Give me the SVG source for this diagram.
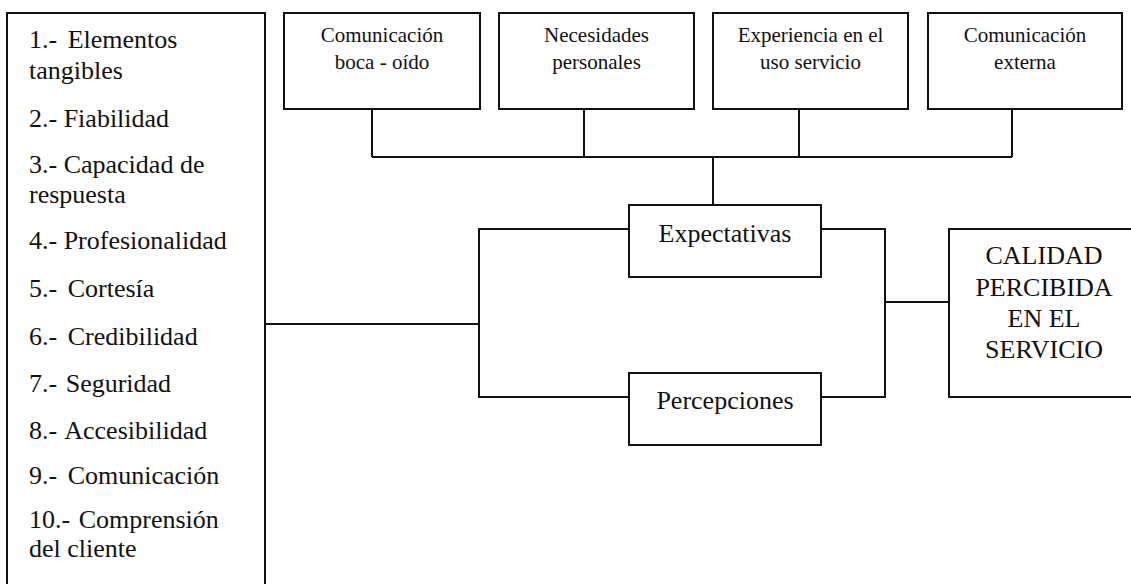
<svg xmlns="http://www.w3.org/2000/svg" width="1131" height="584" viewBox="0 0 1131 584">
  <!-- Connectors -->
  <g id="connectors" fill="none" stroke="#111111" stroke-width="2">
    <!-- Four sources feeding Expectativas -->
    <path d="M372 109 V157 M584 109 V157 M799 109 V157 M1012 109 V157 M372 157 H1012 M713 157 V205"/>
    <!-- Dimensions list to the two branches -->
    <path d="M265 324 H479 M629 229 H479 V397 H629"/>
    <!-- Both branches joining towards the result -->
    <path d="M821 229 H885 V397 H821 M885 302 H949"/>
  </g>

  <!-- Dimensions list -->
  <g id="dimensiones" fill="#111111">
    <rect x="7" y="13" width="258" height="600" fill="#ffffff" stroke="#111111" stroke-width="2"/>
    <text font-family="Liberation Serif" font-size="26" x="29" y="48">1.- <tspan dx="4">Elementos</tspan></text>
    <text font-family="Liberation Serif" font-size="26" x="29" y="79">tangibles</text>
    <text font-family="Liberation Serif" font-size="26" x="29" y="127">2.- Fiabilidad</text>
    <text font-family="Liberation Serif" font-size="26" x="29" y="173">3.- Capacidad de</text>
    <text font-family="Liberation Serif" font-size="26" x="29" y="203">respuesta</text>
    <text font-family="Liberation Serif" font-size="26" x="29" y="249">4.- Profesionalidad</text>
    <text font-family="Liberation Serif" font-size="26" x="29" y="297">5.- <tspan dx="4">Cortesía</tspan></text>
    <text font-family="Liberation Serif" font-size="26" x="29" y="345">6.- <tspan dx="4">Credibilidad</tspan></text>
    <text font-family="Liberation Serif" font-size="26" x="29" y="392">7.- <tspan dx="2">Seguridad</tspan></text>
    <text font-family="Liberation Serif" font-size="26" x="29" y="439">8.- <tspan dx="2">Accesibilidad</tspan></text>
    <text font-family="Liberation Serif" font-size="26" x="29" y="484">9.- <tspan dx="4">Comunicación</tspan></text>
    <text font-family="Liberation Serif" font-size="26" x="29" y="528">10.- <tspan dx="2">Comprensión</tspan></text>
    <text font-family="Liberation Serif" font-size="26" x="29" y="557">del cliente</text>
  </g>

  <!-- Sources of expectations -->
  <g id="boca-oido" fill="#111111" text-anchor="middle">
    <rect x="284" y="13" width="196" height="96" fill="#ffffff" stroke="#111111" stroke-width="2"/>
    <text font-family="Liberation Serif" font-size="21" x="382" y="42">Comunicación</text>
    <text font-family="Liberation Serif" font-size="21" x="382" y="69">boca - oído</text>
  </g>
  <g id="necesidades" fill="#111111" text-anchor="middle">
    <rect x="499" y="13" width="195" height="96" fill="#ffffff" stroke="#111111" stroke-width="2"/>
    <text font-family="Liberation Serif" font-size="21" x="596.5" y="42">Necesidades</text>
    <text font-family="Liberation Serif" font-size="21" x="596.5" y="69">personales</text>
  </g>
  <g id="experiencia" fill="#111111" text-anchor="middle">
    <rect x="713" y="13" width="195" height="96" fill="#ffffff" stroke="#111111" stroke-width="2"/>
    <text font-family="Liberation Serif" font-size="21" x="810.5" y="42">Experiencia en el</text>
    <text font-family="Liberation Serif" font-size="21" x="810.5" y="69">uso servicio</text>
  </g>
  <g id="externa" fill="#111111" text-anchor="middle">
    <rect x="928" y="13" width="194" height="96" fill="#ffffff" stroke="#111111" stroke-width="2"/>
    <text font-family="Liberation Serif" font-size="21" x="1025" y="42">Comunicación</text>
    <text font-family="Liberation Serif" font-size="21" x="1025" y="69">externa</text>
  </g>

  <!-- Expectations and perceptions -->
  <g id="expectativas" fill="#111111" text-anchor="middle">
    <rect x="629" y="205" width="192" height="72" fill="#ffffff" stroke="#111111" stroke-width="2"/>
    <text font-family="Liberation Serif" font-size="26" x="725" y="242">Expectativas</text>
  </g>
  <g id="percepciones" fill="#111111" text-anchor="middle">
    <rect x="629" y="373" width="192" height="72" fill="#ffffff" stroke="#111111" stroke-width="2"/>
    <text font-family="Liberation Serif" font-size="26" x="725" y="409">Percepciones</text>
  </g>

  <!-- Result -->
  <g id="calidad" fill="#111111" text-anchor="middle">
    <rect x="949" y="229" width="200" height="168" fill="#ffffff" stroke="#111111" stroke-width="2"/>
    <text font-family="Liberation Serif" font-size="26" x="1044" y="264">CALIDAD</text>
    <text font-family="Liberation Serif" font-size="26" x="1044" y="296">PERCIBIDA</text>
    <text font-family="Liberation Serif" font-size="26" x="1044" y="327">EN EL</text>
    <text font-family="Liberation Serif" font-size="26" x="1044" y="358">SERVICIO</text>
  </g>
</svg>
